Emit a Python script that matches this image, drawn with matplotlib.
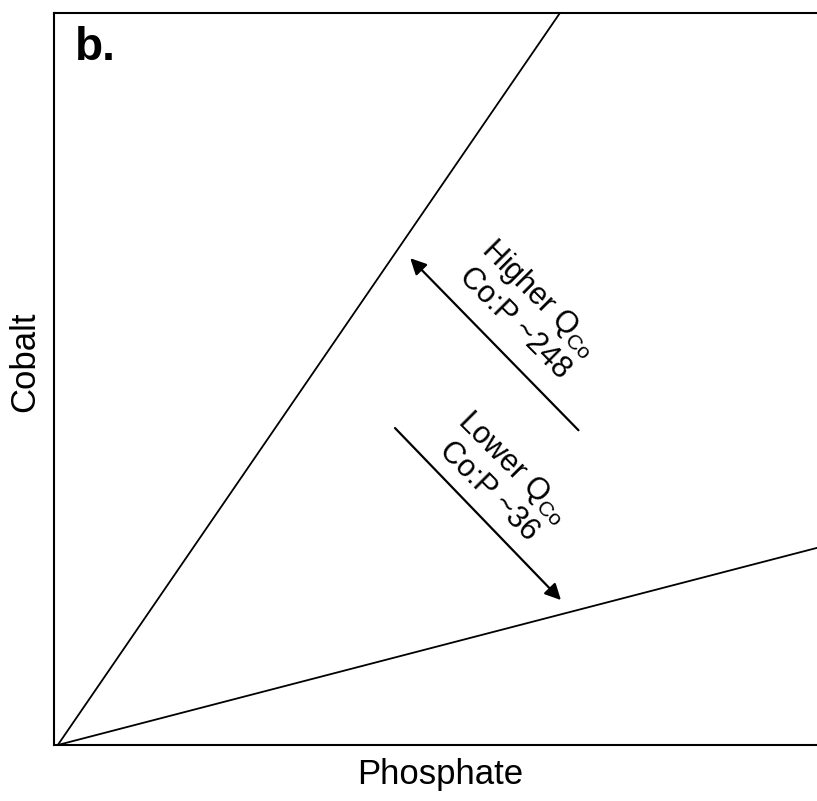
import matplotlib.pyplot as plt

plt.rcParams['font.family'] = ['Liberation Sans', 'DejaVu Sans']
plt.rcParams['mathtext.fontset'] = 'custom'
plt.rcParams['mathtext.rm'] = 'Liberation Sans'

# conceptual lines through the origin (arbitrary units)
phosphate = [0.0, 1.0]
cobalt_high = [0.0, 1.516]   # steep line, Co:P ~248
cobalt_low = [0.0, 0.270]    # shallow line, Co:P ~36

fig = plt.figure(figsize=(8.17, 8.01), dpi=100)
ax = fig.add_axes([54 / 817, 56 / 801, 765 / 817, 732 / 801])

ax.plot(phosphate, cobalt_high, color='black', lw=1.3)
ax.plot(phosphate, cobalt_low, color='black', lw=1.3)

ax.set_xlim(-0.005, 1.0)
ax.set_ylim(0, 1)
ax.set_xticks([])
ax.set_yticks([])
for s in ax.spines.values():
    s.set_linewidth(1.5)

ax.set_xlabel('Phosphate', fontsize=25)
ax.set_ylabel('Cobalt', fontsize=25)
ax.xaxis.set_label_coords(0.505, -0.018, transform=ax.transAxes)
ax.yaxis.set_label_coords(-0.017, 0.523, transform=ax.transAxes)
ax.xaxis.label.set_va('top')
ax.yaxis.label.set_va('bottom')

ax.text(0.028, 0.982, 'b.', transform=ax.transAxes, fontsize=33,
        fontweight='bold', va='top', ha='left')

# arrows
ax.annotate('', xy=(0.463, 0.665), xytext=(0.684, 0.430),
            arrowprops=dict(arrowstyle='-|>', color='black', lw=1.6,
                            mutation_scale=24, shrinkA=0, shrinkB=0))
ax.annotate('', xy=(0.661, 0.198), xytext=(0.443, 0.433),
            arrowprops=dict(arrowstyle='-|>', color='black', lw=1.6,
                            mutation_scale=24, shrinkA=0, shrinkB=0))

ax.text(0.617, 0.594, 'Higher Q$_{\\mathrm{Co}}$\nCo:P ~248', fontsize=22,
        rotation=-45, ha='center', va='center', rotation_mode='anchor',
        linespacing=1.15)
ax.text(0.583, 0.363, 'Lower Q$_{\\mathrm{Co}}$\nCo:P ~36', fontsize=22,
        rotation=-45, ha='center', va='center', rotation_mode='anchor',
        linespacing=1.15)

fig.savefig('out.png', dpi=100)
